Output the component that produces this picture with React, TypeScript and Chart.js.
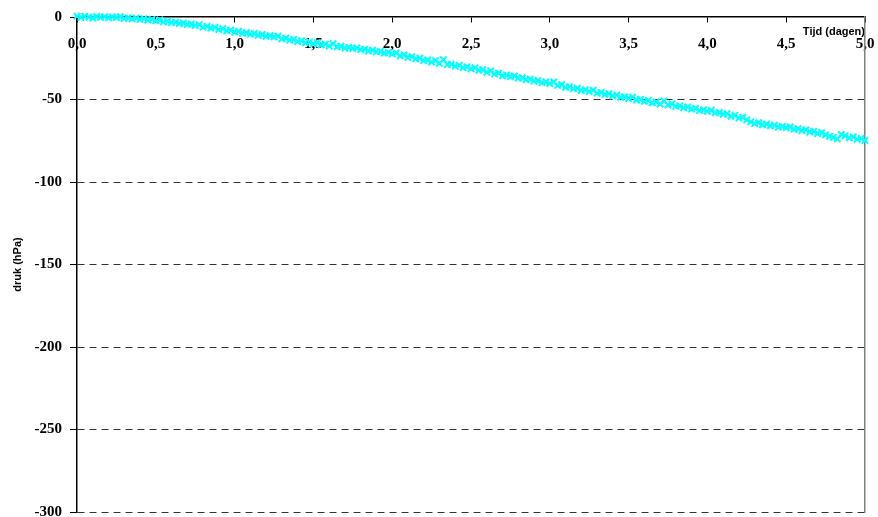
import React, { useEffect, useRef } from "react";
import { Chart, registerables } from "chart.js";

Chart.register(...registerables);

// Tijd (dagen)
const times = [
  0, 0.025, 0.05, 0.075, 0.1, 0.125, 0.15, 0.175, 0.2, 0.225,
  0.25, 0.275, 0.3, 0.325, 0.35, 0.375, 0.4, 0.425, 0.45, 0.475,
  0.5, 0.525, 0.55, 0.575, 0.6, 0.625, 0.65, 0.675, 0.7, 0.725,
  0.75, 0.775, 0.8, 0.825, 0.85, 0.875, 0.9, 0.925, 0.95, 0.975,
  1, 1.025, 1.05, 1.075, 1.1, 1.125, 1.15, 1.175, 1.2, 1.225,
  1.25, 1.275, 1.3, 1.325, 1.35, 1.375, 1.4, 1.425, 1.45, 1.475,
  1.5, 1.525, 1.55, 1.575, 1.6, 1.625, 1.65, 1.675, 1.7, 1.725,
  1.75, 1.775, 1.8, 1.825, 1.85, 1.875, 1.9, 1.925, 1.95, 1.975,
  2, 2.025, 2.05, 2.075, 2.1, 2.125, 2.15, 2.175, 2.2, 2.225,
  2.25, 2.275, 2.3, 2.325, 2.35, 2.375, 2.4, 2.425, 2.45, 2.475,
  2.5, 2.525, 2.55, 2.575, 2.6, 2.625, 2.65, 2.675, 2.7, 2.725,
  2.75, 2.775, 2.8, 2.825, 2.85, 2.875, 2.9, 2.925, 2.95, 2.975,
  3, 3.025, 3.05, 3.075, 3.1, 3.125, 3.15, 3.175, 3.2, 3.225,
  3.25, 3.275, 3.3, 3.325, 3.35, 3.375, 3.4, 3.425, 3.45, 3.475,
  3.5, 3.525, 3.55, 3.575, 3.6, 3.625, 3.65, 3.675, 3.7, 3.725,
  3.75, 3.775, 3.8, 3.825, 3.85, 3.875, 3.9, 3.925, 3.95, 3.975,
  4, 4.025, 4.05, 4.075, 4.1, 4.125, 4.15, 4.175, 4.2, 4.225,
  4.25, 4.275, 4.3, 4.325, 4.35, 4.375, 4.4, 4.425, 4.45, 4.475,
  4.5, 4.525, 4.55, 4.575, 4.6, 4.625, 4.65, 4.675, 4.7, 4.725,
  4.75, 4.775, 4.8, 4.825, 4.85, 4.875, 4.9, 4.925, 4.95, 4.975,
  5,
];

// druk (hPa)
const pressure = [
  0.5, -0.3, 0.4, 0, -0.6, 0.3, -0.2, 0.2, -0.5, 0.1,
  -0.3, 0.2, -0.8, -0.5, -1.2, -0.7, -1.5, -1.0, -1.9, -1.4,
  -2.3, -1.8, -3.0, -2.6, -3.4, -3.1, -4.0, -3.6, -4.5, -4.2,
  -5.2, -4.6, -6.1, -5.7, -6.8, -6.3, -7.6, -7.1, -8.4, -8.0,
  -9.2, -8.6, -9.9, -9.5, -10.4, -10.0, -11.1, -10.6, -11.8, -11.3,
  -12.1, -11.6, -13.2, -12.8, -14.0, -13.5, -14.9, -14.3, -15.6, -15.2,
  -16.3, -15.5, -16.9, -16.4, -17.6, -16.2, -18.1, -17.7, -18.8, -18.4,
  -19.2, -18.7, -19.8, -19.5, -20.6, -20.1, -21.2, -20.8, -21.9, -21.4,
  -22.4, -21.8, -23.6, -23.0, -24.5, -24.0, -25.4, -25.0, -26.5, -26.0,
  -27.3, -26.4, -28.1, -25.9, -28.9, -28.5, -29.8, -29.3, -30.7, -30.2,
  -31.4, -30.8, -32.3, -31.9, -33.5, -32.6, -34.5, -34.0, -35.6, -35.1,
  -36.2, -35.7, -37.1, -36.8, -38.0, -37.6, -38.9, -38.5, -39.8, -39.3,
  -40.3, -39.4, -41.5, -41.0, -42.6, -42.2, -43.5, -43.1, -44.6, -44.0,
  -45.2, -44.3, -46.1, -45.7, -46.9, -46.5, -47.8, -47.4, -48.7, -48.3,
  -49.4, -48.6, -50.3, -49.9, -51.1, -50.6, -52.0, -51.5, -52.8, -50.9,
  -53.3, -52.6, -54.2, -53.8, -55.0, -54.5, -55.9, -55.4, -56.7, -56.2,
  -57.2, -56.5, -58.1, -57.8, -59.0, -58.5, -60.2, -59.6, -61.3, -60.8,
  -62.4, -63.5, -64.6, -64.0, -65.3, -64.8, -66.0, -65.5, -66.8, -66.3,
  -67.2, -66.6, -68.1, -67.7, -68.9, -68.4, -69.7, -69.3, -70.6, -70.1,
  -71.4, -72.3, -72.9, -73.8, -71.2, -72.0, -73.2, -72.7, -74.1, -73.6,
  -74.8,
];

const xTitle = "Tijd (dagen)";
const yTitle = "druk (hPa)";

const SERIF = "'Liberation Serif', 'Times New Roman', serif";
const SANS = "'Liberation Sans', Arial, sans-serif";

export default function App() {
  const canvasRef = useRef<HTMLCanvasElement | null>(null);

  useEffect(() => {
    if (!canvasRef.current) return;
    const chart = new Chart(canvasRef.current, {
      type: "scatter",
      data: {
        datasets: [
          {
            label: "druk",
            data: times.map((t, i) => ({ x: t, y: pressure[i] })),
            showLine: false,
            pointStyle: "crossRot",
            pointRadius: 4.5,
            pointBorderWidth: 2,
            borderColor: "#00FFFF",
            backgroundColor: "#00FFFF",
            clip: false,
          },
        ],
      },
      options: {
        animation: false,
        responsive: false,
        devicePixelRatio: 1,
        layout: { autoPadding: false, padding: { top: 17, bottom: 5, left: 0, right: 0 } },
        plugins: {
          legend: { display: false },
          tooltip: { enabled: false },
        },
        scales: {
          x: {
            type: "linear",
            position: { y: 0 } as any,
            min: 0,
            max: 5,
            afterFit: (s: any) => {
              s.height = 0;
              s.paddingLeft = 0;
              s.paddingRight = 0;
              s.paddingTop = 0;
              s.paddingBottom = 0;
            },
            ticks: {
              stepSize: 0.5,
              autoSkip: false,
              maxRotation: 0,
              padding: 13,
              color: "#000",
              font: { family: SERIF, size: 15, weight: "bold" },
              callback: (v: any) => Number(v).toFixed(1).replace(".", ","),
            },
            grid: {
              drawOnChartArea: false,
              drawTicks: true,
              tickLength: 5,
              color: "#000",
              tickColor: "#000",
            },
            border: { display: true, color: "#000", width: 1.5 },
            title: {
              display: true,
              text: xTitle,
              align: "end",
              color: "#000",
              font: { family: SANS, size: 11, weight: "bold" },
              padding: { top: 0, bottom: -21.6 },
            },
          },
          y: {
            type: "linear",
            position: "left",
            min: -300,
            max: 0,
            afterFit: (s: any) => {
              s.width = 77;
              s.paddingTop = 0;
              s.paddingBottom = 0;
              s.paddingLeft = 0;
              s.paddingRight = 0;
            },
            ticks: {
              stepSize: 50,
              padding: 8,
              color: "#000",
              font: { family: SERIF, size: 15, weight: "bold" },
              callback: (v: any) => String(v),
            },
            grid: {
              drawTicks: true,
              tickLength: 7,
              color: (ctx: any) => (ctx.tick && ctx.tick.value === 0 ? "rgba(0,0,0,0)" : "#333"),
              tickColor: "#000",
              lineWidth: 1,
            },
            border: { display: true, color: "#000", width: 1.5, dash: [7, 5] },
            title: {
              display: true,
              text: yTitle,
              color: "#000",
              font: { family: SANS, size: 11, weight: "bold" },
              padding: { top: 11, bottom: 0 },
            },
          },
          y2: {
            type: "linear",
            position: "right",
            min: -300,
            max: 0,
            afterFit: (s: any) => {
              s.width = 13;
              s.paddingTop = 0;
              s.paddingBottom = 0;
            },
            ticks: { display: false },
            grid: { display: false, drawTicks: false },
            border: { display: true, color: "#808080", width: 1.5 },
          },
        },
      },
    });
    return () => chart.destroy();
  }, []);

  return (
    <div style={{ position: "fixed", left: 0, top: 0, width: 878, height: 517, background: "#fff" }}>
      <canvas ref={canvasRef} width={878} height={517} style={{ display: "block" }} />
    </div>
  );
}
